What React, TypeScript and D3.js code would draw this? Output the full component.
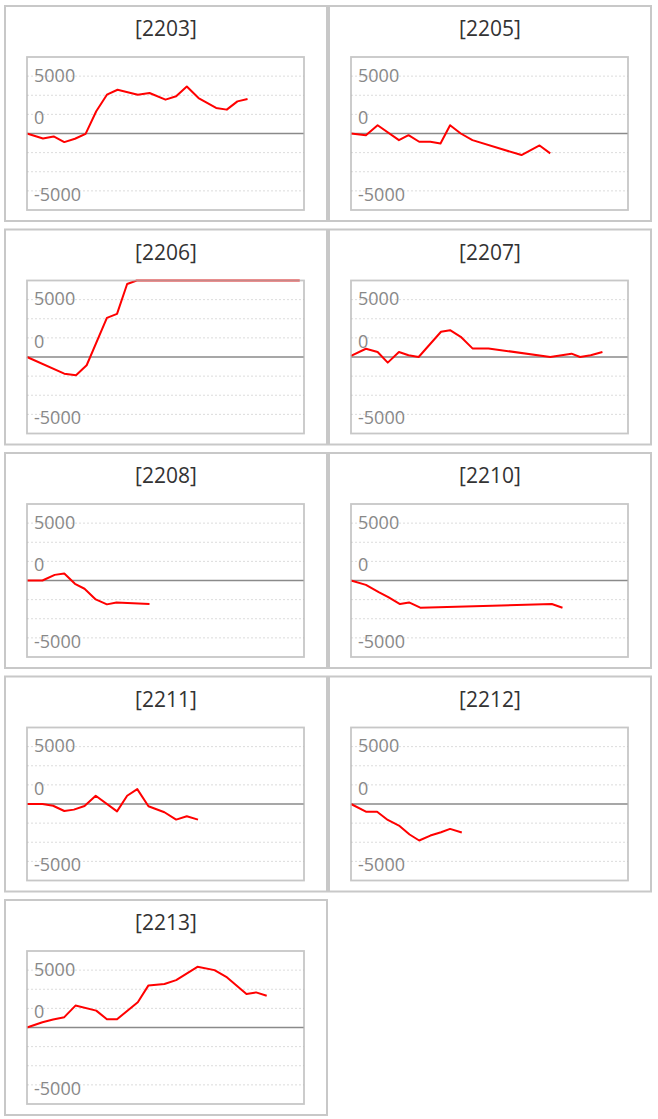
import * as d3 from 'd3';

// Panel names, in reading order (two per row)
const PANEL_NAMES = ['2203', '2205', '2206', '2207', '2208', '2210', '2211', '2212', '2213'];

// x = trading-day position, y = running value
const T2203 = [0, 1.5, 2.5, 3.5, 4.5, 5.5, 6.5, 7.5, 8.5, 10.4, 11.5, 13, 14, 15, 16.1, 17.75, 18.75, 19.75, 20.7];
const V2203 = [0, -430, -260, -750, -460, -30, 1940, 3380, 3810, 3380, 3530, 2950, 3240, 4100, 3090, 2230, 2080, 2800, 3000];

const T2205 = [0, 1.4, 2.5, 4.5, 5.4, 6.4, 7.45, 8.4, 9.3, 10.3, 11.4, 16, 17.7, 18.7];
const V2205 = [0, -150, 720, -580, -150, -720, -720, -870, 720, 0, -580, -1880, -1040, -1730];

const T2206 = [0, 3.5, 4.6, 5.6, 7.5, 8.45, 9.4, 10.3, 11.4, 13, 15, 17.7, 20.6, 23.6, 25.6];
const V2206 = [0, -1450, -1590, -720, 3410, 3760, 6360, 6900, 7600, 8200, 8800, 9300, 9100, 9600, 9900];

const T2207 = [0, 1.4, 2.5, 3.45, 4.5, 5.4, 6.35, 8.45, 9.3, 10.3, 11.4, 12.9, 18.7, 20.7, 21.5, 22.5, 23.6];
const V2207 = [100, 720, 430, -490, 430, 150, 0, 2200, 2340, 1760, 750, 750, 0, 290, 0, 150, 430];

const T2208 = [0, 1.45, 2.6, 3.5, 4.5, 5.4, 6.45, 7.5, 8.4, 11.5];
const V2208 = [0, 0, 490, 610, -290, -720, -1650, -2080, -1910, -2050];

const T2210 = [0, 1.4, 2.6, 3.5, 4.6, 5.45, 6.5, 18.85, 19.85];
const V2210 = [0, -380, -1010, -1450, -2050, -1910, -2370, -2050, -2370];

const T2211 = [0, 1.45, 2.45, 3.5, 4.4, 5.4, 6.45, 8.45, 9.4, 10.35, 11.4, 12.9, 14, 15, 16.05];
const V2211 = [0, 0, -150, -610, -490, -170, 720, -640, 720, 1300, -200, -720, -1360, -1070, -1360];

const T2212 = [0, 1.4, 2.45, 3.45, 4.5, 5.5, 6.4, 7.45, 8.45, 9.3, 10.4];
const V2212 = [0, -670, -670, -1390, -1880, -2660, -3180, -2750, -2460, -2170, -2490];

const T2213 = [0, 1.45, 2.45, 3.5, 4.55, 6.5, 7.5, 8.45, 10.4, 11.4, 12.9, 14, 16, 17.6, 18.7, 20.6, 21.5, 22.5];
const V2213 = [0, 460, 690, 900, 1910, 1470, 720, 720, 2200, 3670, 3790, 4130, 5290, 5000, 4420, 2920, 3060, 2770];

const SERIES_T = [T2203, T2205, T2206, T2207, T2208, T2210, T2211, T2212, T2213];
const SERIES_V = [V2203, V2205, V2206, V2207, V2208, V2210, V2211, V2212, V2213];

// y axis: grid every 1/8 of the range, three labels (drawn where the original puts them)
const Y_DOMAIN = [-6667, 6667];
const GRID_VALUES = [-5000, -3333, -1667, 1667, 3333, 5000];
const LABEL_VALUES = [5100, 1400, -5250];
const LABEL_TEXTS = ['5000', '0', '-5000'];
const X_DOMAIN = [0, 26];

const W = 658;
const H = 1119;
const FONT = '"Open Sans", "Noto Sans", sans-serif';

function Panel({ name, t, v, px, py }: { name: string; t: number[]; v: number[]; px: number; py: number }) {
  const pw = 322;
  const ph = 215;
  const left = px + 22;
  const top = py + 51;
  const w = 277;
  const h = 153;

  const x = d3.scaleLinear().domain(X_DOMAIN).range([left, left + w]);
  const y = d3.scaleLinear().domain(Y_DOMAIN).range([top + h, top]).clamp(true);

  const pts = t.map((d, i) => [d, v[i]] as [number, number]);
  const line = d3
    .line<[number, number]>()
    .x((d) => x(d[0]))
    .y((d) => y(d[1]));

  return (
    <g>
      <rect x={px} y={py} width={pw} height={ph} fill="#fff" stroke="#c8c8c8" strokeWidth={2} />
      <text
        x={px + pw / 2}
        y={py + 22}
        textAnchor="middle"
        dominantBaseline="central"
        fontFamily={FONT}
        fontSize={21}
        fill="#333"
      >
        [{name}]
      </text>
      {GRID_VALUES.map((g) => (
        <line
          key={g}
          x1={left}
          x2={left + w}
          y1={y(g)}
          y2={y(g)}
          stroke="#dcdcdc"
          strokeWidth={1}
          strokeDasharray="2,2"
        />
      ))}
      {LABEL_VALUES.map((lv, i) => (
        <text
          key={lv}
          x={left + 7}
          y={y(lv)}
          dominantBaseline="central"
          fontFamily={FONT}
          fontSize={18}
          fill="#888"
        >
          {LABEL_TEXTS[i]}
        </text>
      ))}
      <line x1={left} x2={left + w} y1={y(0)} y2={y(0)} stroke="#8a8a8a" strokeWidth={1.5} />
      <path d={line(pts) ?? ''} fill="none" stroke="#ff0000" strokeWidth={2} strokeLinejoin="round" />
      <rect x={left} y={top} width={w} height={h} fill="none" stroke="#b4b4b4" strokeOpacity={0.75} strokeWidth={1.8} />
    </g>
  );
}

export default function App() {
  return (
    <div style={{ position: 'absolute', left: 0, top: 0, width: W, height: H, background: '#fff' }}>
      <svg width={W} height={H} style={{ display: 'block' }}>
        {PANEL_NAMES.map((name, i) => {
          const col = i % 2;
          const row = Math.floor(i / 2);
          return (
            <Panel
              key={name}
              name={name}
              t={SERIES_T[i]}
              v={SERIES_V[i]}
              px={5 + col * 324}
              py={6 + row * 223.5}
            />
          );
        })}
      </svg>
    </div>
  );
}
